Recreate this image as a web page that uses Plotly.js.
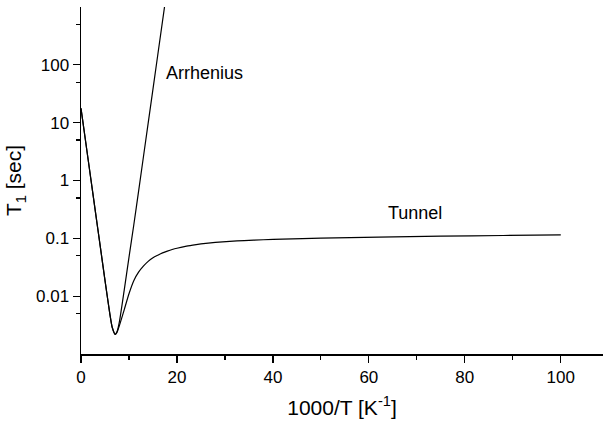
<!DOCTYPE html>
<html>
<head>
<meta charset="utf-8">
<script src="https://cdn.plot.ly/plotly-3.0.1.min.js"></script>
<style>html,body{margin:0;padding:0;background:#fff;overflow:hidden;}#chart{width:603px;height:426px;}</style>
</head>
<body>
<div id="chart"></div>
<script>
// Arrhenius curve
const arrX = [0, 1, 2, 3, 4, 5, 6, 6.5, 7.13, 7.5, 8, 9, 10, 11, 12, 14, 16, 18];
const arrY = [17.7, 4.5, 1.14, 0.29, 0.074, 0.0188, 0.0050, 0.0029, 0.00219, 0.00242, 0.0036, 0.0126, 0.047, 0.17, 0.65, 9.8, 148, 2240];
// Tunnel curve
const tunX = [0, 1, 2, 3, 4, 5, 6, 6.5, 7.13, 7.5, 8, 9, 10, 11, 12, 13, 14, 15, 16, 17, 18, 19, 20, 22, 24, 26, 28, 31, 34, 38, 42, 50, 62, 75, 88, 100];
const tunY = [17.7, 4.5, 1.14, 0.29, 0.074, 0.0188, 0.0050, 0.0029, 0.00219, 0.00236, 0.0031, 0.0058, 0.0110, 0.0185, 0.026, 0.033, 0.040, 0.046, 0.051, 0.056, 0.060, 0.064, 0.0675, 0.0735, 0.078, 0.082, 0.085, 0.0885, 0.0915, 0.0945, 0.097, 0.101, 0.105, 0.109, 0.112, 0.115];
const yTickVals = [0.01, 0.1, 1, 10, 100];
const yTickText = ['0.01', '0.1', '1', '10', '100'];
const yMinorVals = [0.005, 0.05, 0.5, 5, 50, 500];
const labels = [
  {text: 'Arrhenius', x: 17.4, y: 72},
  {text: 'Tunnel', x: 63.5, y: 0.277}
];

const FONT = 'Liberation Sans, Arial, Helvetica, sans-serif';
const traces = [
  {x: arrX, y: arrY, mode: 'lines', line: {color: '#000', width: 1.2, shape: 'spline', smoothing: 0.6}, hoverinfo: 'skip'},
  {x: tunX, y: tunY, mode: 'lines', line: {color: '#000', width: 1.2, shape: 'spline', smoothing: 0.6}, hoverinfo: 'skip'}
];
const layout = {
  width: 603, height: 426,
  margin: {l: 81, r: 0, t: 7, b: 72},
  paper_bgcolor: '#fff', plot_bgcolor: '#fff',
  showlegend: false,
  font: {family: FONT, color: '#000', size: 17},
  xaxis: {
    range: [0, 108.8], showline: true, linewidth: 1.5, linecolor: '#000',
    ticks: 'outside', ticklen: 7, tickwidth: 1.2, tickcolor: '#000',
    tick0: 0, dtick: 20, showgrid: false, zeroline: false,
    minor: {dtick: 10, tick0: 0, ticks: 'outside', ticklen: 4, tickwidth: 1.2, tickcolor: '#000', showgrid: false},
    tickfont: {size: 17, family: FONT},
    title: {text: '1000/T [K<sup>-1</sup>]', font: {size: 21, family: FONT}, standoff: 14}
  },
  xaxis2: {
    overlaying: 'x', side: 'top', anchor: 'y', range: [0, 108.8],
    showline: true, linewidth: 1.5, linecolor: '#000',
    ticks: 'inside', ticklen: 4, tickwidth: 1.2, tickcolor: '#000',
    tick0: 0, dtick: 10, showticklabels: false, showgrid: false, zeroline: false
  },
  yaxis: {
    type: 'log', range: [-3, 3], showline: true, linewidth: 1.5, linecolor: '#000',
    tickmode: 'array', tickvals: yTickVals, ticktext: yTickText,
    ticks: 'outside', ticklen: 7, tickwidth: 1.2, tickcolor: '#000',
    minor: {tickmode: 'array', tickvals: yMinorVals, ticks: 'outside', ticklen: 4, tickwidth: 1.2, tickcolor: '#000', showgrid: false},
    showgrid: false, zeroline: false,
    tickfont: {size: 17, family: FONT},
    title: {text: 'T<sub>1</sub> [sec]', font: {size: 21, family: FONT}, standoff: 8}
  },
  annotations: labels.map(l => ({
    text: l.text, x: l.x, y: Math.log10(l.y), xref: 'x', yref: 'y',
    xanchor: 'left', yanchor: 'middle', showarrow: false,
    font: {size: 18, family: FONT, color: '#000'}
  }))
};
Plotly.newPlot('chart', traces, layout, {displayModeBar: false, staticPlot: true});
</script>
</body>
</html>
